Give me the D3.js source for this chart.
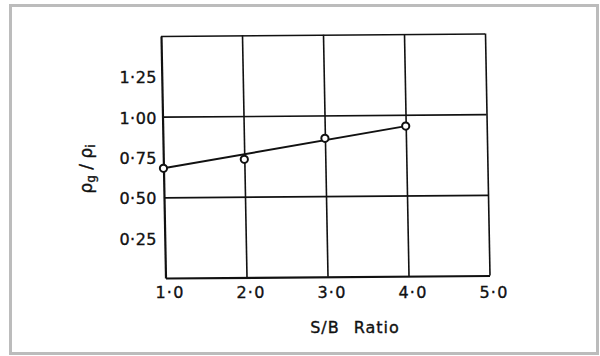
<!DOCTYPE html>
<html>
<head>
<meta charset="utf-8">
<script src="https://cdn.jsdelivr.net/npm/d3@7"></script>
<style>
  html, body { margin: 0; padding: 0; background: #fff; }
  svg { display: block; }
  text { font-family: "DejaVu Sans", sans-serif; fill: #111; stroke: #111; stroke-width: 0.35px; }
</style>
</head>
<body>
<svg id="chart" width="600" height="356"></svg>
<script>
// S/B ratio on the x axis, density ratio rho_g / rho_i on the y axis
const sbRatio      = [1.0, 2.0, 3.0, 4.0];
const densityRatio = [0.680, 0.732, 0.858, 0.930];

// straight trend line drawn through the measurements
const trendX = [1.0, 4.0];
const trendY = [0.680, 0.930];

// ticks and grid
const xTicks = [1.0, 2.0, 3.0, 4.0, 5.0];
const yTicks = [0.25, 0.50, 0.75, 1.00, 1.25];
const xGrid  = [2.0, 3.0, 4.0, 5.0];
const yGrid  = [0.50, 1.00, 1.50];

const W = 324, H = 242;
const plotLeft = 161, plotTop = 36;

const svg = d3.select("#chart");

// outer frame
svg.append("rect")
  .attr("x", 10.5).attr("y", 5.5)
  .attr("width", 587).attr("height", 348)
  .attr("fill", "#fff")
  .attr("stroke", "#bcbcbc")
  .attr("stroke-width", 3);

const x = d3.scaleLinear().domain([1, 5]).range([0, W]);
const y = d3.scaleLinear().domain([0, 1.5]).range([H, 0]);

const dotFmt = f => v => d3.format(f)(v).replace(".", "\u00B7");

// plot body, slightly slanted like a hand-ruled sheet
const plot = svg.append("g")
  .attr("transform", `matrix(1,-0.0077,0.0186,1,${plotLeft},${plotTop})`);

// horizontal grid lines
const gy = plot.append("g")
  .call(d3.axisLeft(y).tickValues(yGrid).tickSize(-W).tickFormat(""));
gy.select(".domain").remove();
gy.selectAll("line").attr("stroke", "#111").attr("stroke-width", 1.6);

// vertical grid lines
const gx = plot.append("g")
  .attr("transform", `translate(0,${H})`)
  .call(d3.axisBottom(x).tickValues(xGrid).tickSize(-H).tickFormat(""));
gx.select(".domain").remove();
gx.selectAll("line").attr("stroke", "#111").attr("stroke-width", 1.6);

// axes
plot.append("g")
  .call(d3.axisLeft(y).tickValues([]).tickSizeOuter(0))
  .select(".domain").attr("stroke", "#111").attr("stroke-width", 2.2);
plot.append("g")
  .attr("transform", `translate(0,${H})`)
  .call(d3.axisBottom(x).tickValues([]).tickSizeOuter(0))
  .select(".domain").attr("stroke", "#111").attr("stroke-width", 2.2);

// trend line
const pts = trendX.map((v, i) => [v, trendY[i]]);
plot.append("path")
  .datum(pts)
  .attr("fill", "none")
  .attr("stroke", "#111")
  .attr("stroke-width", 1.9)
  .attr("d", d3.line().x(d => x(d[0])).y(d => y(d[1])));

// measured points
plot.selectAll("circle.pt")
  .data(sbRatio.map((v, i) => [v, densityRatio[i]]))
  .join("circle")
  .attr("class", "pt")
  .attr("cx", d => x(d[0]))
  .attr("cy", d => y(d[1]))
  .attr("r", 3.6)
  .attr("fill", "#fff")
  .attr("stroke", "#111")
  .attr("stroke-width", 2);

// y tick labels
const yl = svg.append("g")
  .attr("transform", `translate(157,${plotTop + 1.5})`)
  .call(d3.axisLeft(y).tickValues(yTicks).tickSize(0).tickPadding(0).tickFormat(dotFmt(".2f")));
yl.select(".domain").remove();
yl.selectAll("text")
  .attr("font-size", 16)
  .attr("letter-spacing", 0.5)
  .attr("fill", "#111")
  .style("font-family", "'DejaVu Sans', sans-serif");

// x tick labels
const xl = svg.append("g")
  .attr("transform", `translate(${plotLeft + 8.5},${plotTop + H})`)
  .call(d3.axisBottom(x).tickValues(xTicks).tickSize(0).tickPadding(9).tickFormat(dotFmt(".1f")));
xl.select(".domain").remove();
xl.selectAll("text")
  .attr("font-size", 16)
  .attr("letter-spacing", 1.2)
  .attr("fill", "#111")
  .style("font-family", "'DejaVu Sans', sans-serif");

// x axis title
svg.append("text")
  .attr("x", 355).attr("y", 333)
  .attr("text-anchor", "middle")
  .attr("font-size", 16)
  .attr("letter-spacing", 1)
  .attr("word-spacing", 8)
  .text("S/B Ratio");

// y axis title: rho_g / rho_i
const yt = svg.append("text")
  .attr("transform", "translate(92,169) rotate(-90)")
  .attr("text-anchor", "middle")
  .attr("font-size", 17);
yt.append("tspan").text("\u03C1");
yt.append("tspan").attr("font-size", 12).attr("dy", 3).text("g");
yt.append("tspan").attr("dy", -3).text(" / ");
yt.append("tspan").text("\u03C1");
yt.append("tspan").attr("font-size", 12).attr("dy", 3).text("i");
</script>
</body>
</html>
